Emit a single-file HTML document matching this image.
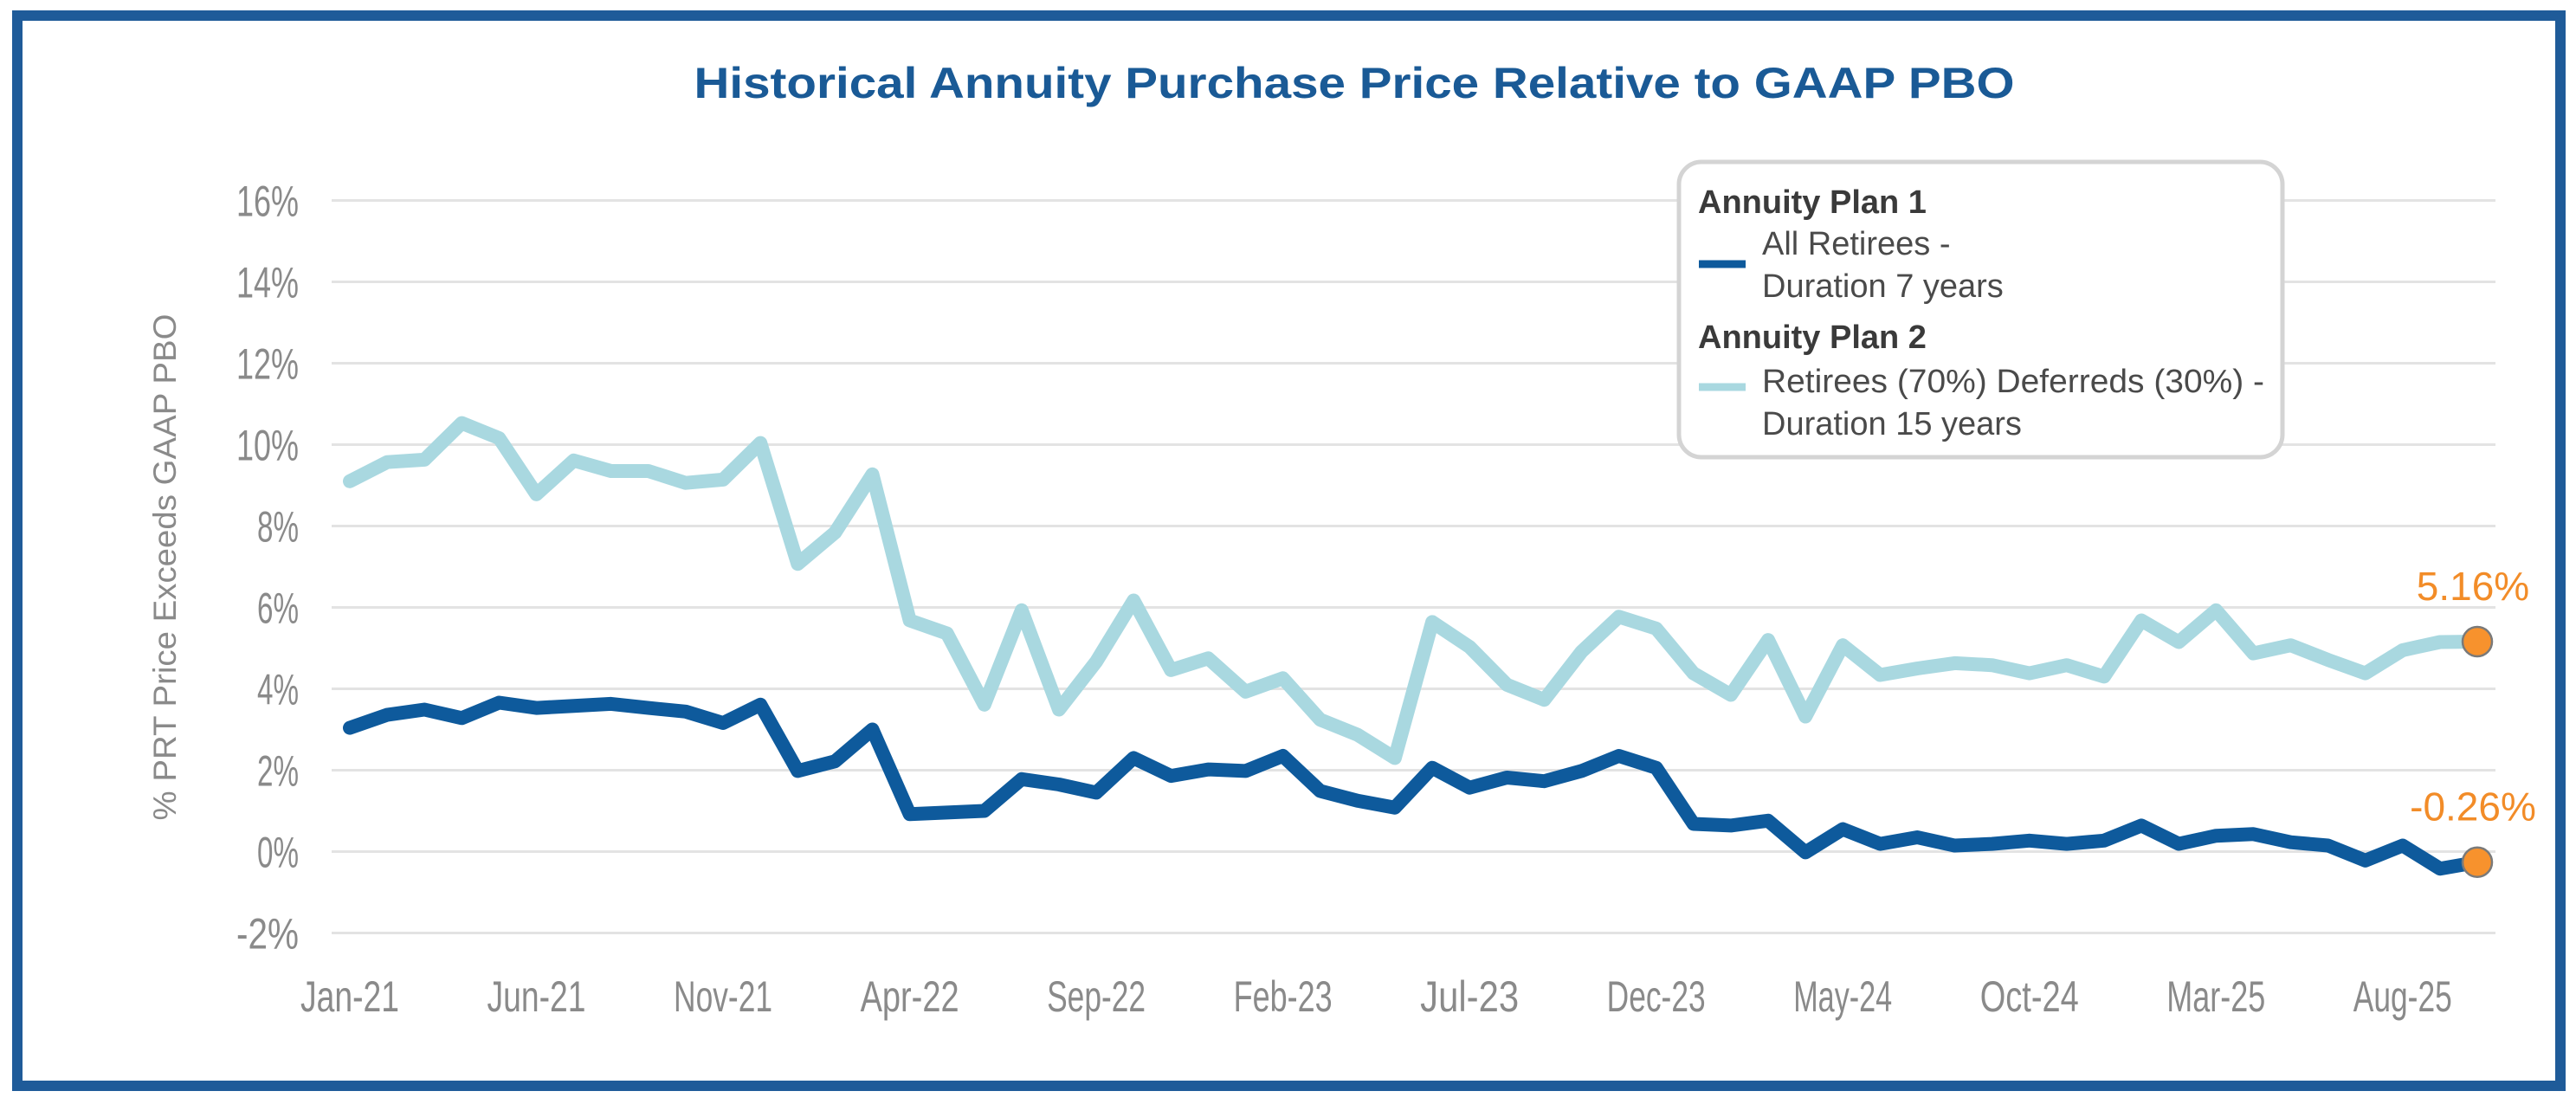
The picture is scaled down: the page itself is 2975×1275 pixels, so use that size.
<!DOCTYPE html>
<html><head><meta charset="utf-8">
<style>
html,body{margin:0;padding:0;background:#fff;}
svg{display:block;font-family:"Liberation Sans",sans-serif;}
</style></head>
<body>
<svg id="chart" width="2975" height="1275" viewBox="0 0 2975 1275" xmlns="http://www.w3.org/2000/svg">
<rect x="20" y="18" width="2937" height="1236" fill="#fff" stroke="#1f5b99" stroke-width="12"/>
<text x="1564" y="113" text-anchor="middle" font-size="50" font-weight="bold" fill="#1a5a96" textLength="1525" lengthAdjust="spacingAndGlyphs">Historical Annuity Purchase Price Relative to GAAP PBO</text>
<g id="grid"></g>
<g id="yticks"></g>
<g id="xticks"></g>
<text transform="translate(203,655) rotate(-90)" text-anchor="middle" font-size="37" fill="#8a8a8a" textLength="585" lengthAdjust="spacingAndGlyphs">% PRT Price Exceeds GAAP PBO</text>
<g id="series"></g>
<g>
<rect x="1939" y="187" width="697" height="341" rx="26" fill="#fff" stroke="#d4d4d4" stroke-width="5"/>
<text x="1961" y="246" font-size="38" font-weight="bold" fill="#3a3a3a">Annuity Plan 1</text>
<line x1="1962" y1="305" x2="2016" y2="305" stroke="#0e5a9c" stroke-width="9"/>
<text x="2035" y="294" font-size="38" fill="#4a4a4a">All Retirees -</text>
<text x="2035" y="343" font-size="38" fill="#4a4a4a">Duration 7 years</text>
<text x="1961" y="402" font-size="38" font-weight="bold" fill="#3a3a3a">Annuity Plan 2</text>
<line x1="1962" y1="447" x2="2016" y2="447" stroke="#a9d8e0" stroke-width="9"/>
<text x="2035" y="453" font-size="38" fill="#4a4a4a" textLength="580" lengthAdjust="spacingAndGlyphs">Retirees (70%) Deferreds (30%) -</text>
<text x="2035" y="502" font-size="38" fill="#4a4a4a">Duration 15 years</text>
</g>
</svg>
<script>
const months = ["Jan-21","Feb-21","Mar-21","Apr-21","May-21","Jun-21","Jul-21","Aug-21","Sep-21","Oct-21","Nov-21","Dec-21","Jan-22","Feb-22","Mar-22","Apr-22","May-22","Jun-22","Jul-22","Aug-22","Sep-22","Oct-22","Nov-22","Dec-22","Jan-23","Feb-23","Mar-23","Apr-23","May-23","Jun-23","Jul-23","Aug-23","Sep-23","Oct-23","Nov-23","Dec-23","Jan-24","Feb-24","Mar-24","Apr-24","May-24","Jun-24","Jul-24","Aug-24","Sep-24","Oct-24","Nov-24","Dec-24","Jan-25","Feb-25","Mar-25","Apr-25","May-25","Jun-25","Jul-25","Aug-25","Sep-25","Oct-25"];
const plan1 = [3.04,3.36,3.49,3.28,3.66,3.53,3.58,3.63,3.53,3.44,3.16,3.61,1.98,2.22,3.0,0.92,0.96,1.0,1.78,1.65,1.45,2.30,1.86,2.02,1.98,2.35,1.49,1.25,1.08,2.06,1.57,1.82,1.73,1.98,2.35,2.06,0.68,0.64,0.76,-0.02,0.55,0.19,0.35,0.15,0.19,0.27,0.19,0.27,0.64,0.19,0.39,0.43,0.23,0.15,-0.22,0.15,-0.42,-0.26];
const plan2 = [9.10,9.57,9.63,10.53,10.16,8.78,9.61,9.35,9.35,9.06,9.14,10.04,7.07,7.84,9.27,5.68,5.36,3.61,5.93,3.49,4.67,6.17,4.46,4.75,3.93,4.26,3.24,2.87,2.30,5.64,5.03,4.10,3.73,4.91,5.77,5.48,4.38,3.85,5.2,3.32,5.07,4.34,4.50,4.63,4.58,4.38,4.58,4.30,5.68,5.15,5.93,4.87,5.07,4.71,4.38,4.95,5.15,5.16];
const yTicks = [-2,0,2,4,6,8,10,12,14,16];
const xTickLabels = ["Jan-21","Jun-21","Nov-21","Apr-22","Sep-22","Feb-23","Jul-23","Dec-23","May-24","Oct-24","Mar-25","Aug-25"];
const endLabels = ["-0.26%","5.16%"];

const NS="http://www.w3.org/2000/svg";
const X0=404, X1=2861, Y0=983.5, PER=47.0;
const xs = i => X0 + (X1-X0)*i/(months.length-1);
const ys = v => Y0 - v*PER;
function mk(tag, attrs, parent){const e=document.createElementNS(NS,tag);for(const k in attrs)e.setAttribute(k,attrs[k]);parent.appendChild(e);return e;}

const grid=document.getElementById('grid'), yt=document.getElementById('yticks'), xt=document.getElementById('xticks'), ser=document.getElementById('series');
yTicks.forEach(v=>{
  const l=mk('line',{x1:383,x2:2882,y1:ys(v),y2:ys(v),stroke:'#e3e3e3','stroke-width':3},grid);
  
  
  const lab=v+'%';
  const t=mk('text',{x:345,y:ys(v)+18,'text-anchor':'end','font-size':50,fill:'#8a8a8a',textLength:lab.length*24,lengthAdjust:'spacingAndGlyphs'},yt);
  t.textContent=lab;
  
  
});
xTickLabels.forEach(lab=>{
  const i=months.indexOf(lab);
  const t=mk('text',{x:xs(i),y:1168,'text-anchor':'middle','font-size':50,fill:'#8a8a8a',textLength:lab.length*19,lengthAdjust:'spacingAndGlyphs'},xt);
  t.textContent=lab;
  
  
});
function line(vals,color,name){
  const d=vals.map((v,i)=>(i?'L':'M')+xs(i).toFixed(1)+','+ys(v).toFixed(1)).join(' ');
  const p=mk('path',{d:d,fill:'none',stroke:color,'stroke-width':16,'stroke-linejoin':'round','stroke-linecap':'round'},ser);
  
  
}
line(plan2,'#a9d8e0','plan2-line');
line(plan1,'#0e5a9c','plan1-line');
[plan1,plan2].forEach((vals,k)=>{
  const n=vals.length-1;
  const c=mk('circle',{cx:xs(n),cy:ys(vals[n]),r:17,fill:'#f7922d',stroke:'#7a7a7a','stroke-width':2.5},ser);
  
  
  const t=mk('text',{x:xs(n)-5,y:ys(vals[n])-48,'text-anchor':'middle','font-size':46,fill:'#f28c28'},ser);
  t.textContent=endLabels[k];
  
  
});
</script>
</body></html>
